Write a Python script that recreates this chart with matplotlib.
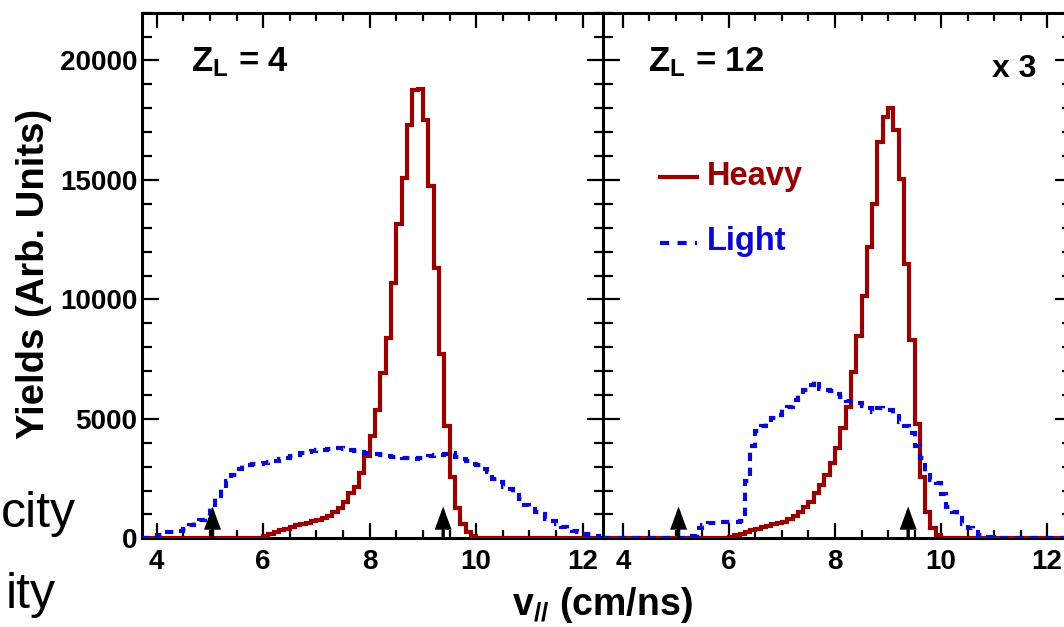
import numpy as np
import matplotlib
matplotlib.use("Agg")
import matplotlib.pyplot as plt
from matplotlib.ticker import MultipleLocator

# ---------------- data ----------------
# left panel (Z_L = 4): bins of 0.1 cm/ns from 3.7 to 12.4
edges_left = np.round(np.arange(3.7, 12.4 + 1e-9, 0.1), 2)
heavy_left = [0] * 23 + [
    80, 170, 260, 340, 410, 480, 540, 600, 650, 710,          # 6.0-6.9
    780, 840, 920, 1100, 1250, 1530, 1880, 2150, 2750, 3450,  # 7.0-7.9
    4300, 5350, 6900, 8400, 10700, 13150, 15100, 17300, 18750, 18800,  # 8.0-8.9
    17500, 14750, 11300, 7700, 4680, 2570, 1250, 610, 250, 110,  # 9.0-9.9
    30,                                                        # 10.0
] + [0] * 23
light_left = [
    0, 0, 50,                                                  # 3.7-3.9
    150, 180, 250, 280, 320, 380, 550, 700, 780, 950,          # 4.0-4.9
    1300, 1750, 2100, 2400, 2650, 2900, 3050, 3080, 3100, 3120,  # 5.0-5.9
    3150, 3200, 3250, 3300, 3350, 3430, 3480, 3560, 3620, 3660,  # 6.0-6.9
    3690, 3710, 3750, 3780, 3800, 3720, 3680, 3650, 3600, 3580,  # 7.0-7.9
    3560, 3520, 3480, 3450, 3420, 3400, 3380, 3370, 3340, 3380,  # 8.0-8.9
    3420, 3450, 3480, 3500, 3540, 3560, 3420, 3300, 3250, 3100,  # 9.0-9.9
    3050, 2900, 2780, 2500, 2350, 2150, 2050, 1800, 1650, 1400,  # 10.0-10.9
    1300, 1100, 1000, 800, 720, 600, 480, 400, 300, 270,       # 11.0-11.9
    180, 130, 80, 30,                                          # 12.0-12.3
]

# right panel (Z_L = 12, x 3): bins of 0.1 cm/ns from 3.6 to 12.5
edges_right = np.round(np.arange(3.6, 12.5 + 1e-9, 0.1), 2)
heavy_right = [0] * 24 + [
    50, 120, 190, 260, 330, 400, 470, 520, 580, 640,           # 6.0-6.9
    700, 800, 930, 1115, 1320, 1530, 1880, 2230, 2650, 3140,   # 7.0-7.9
    3770, 4600, 5500, 6940, 8480, 10150, 12200, 14000, 16600, 17650,  # 8.0-8.9
    18000, 17100, 15050, 11500, 8300, 4800, 2580, 1115, 420, 140,  # 9.0-9.9
    30,                                                        # 10.0
] + [0] * 24
light_right = [0] * 17 + [
    100, 420, 550, 630, 660, 690, 700,                         # 5.3-5.9
    700, 700, 720, 2400, 3870, 4500, 4700, 4870, 5050, 5170,   # 6.0-6.9
    5400, 5500, 5800, 6000, 6200, 6400, 6600, 6250, 6200, 6150,  # 7.0-7.9
    6050, 5900, 5750, 5700, 5650, 5550, 5450, 5300, 5450, 5400,  # 8.0-8.9
    5350, 5200, 4880, 4700, 4400, 3870, 3350, 2720, 2450, 2300,  # 9.0-9.9
    1850, 1300, 1100, 850, 600, 420, 250, 150, 70, 40,         # 10.0-10.9
] + [0] * 15

arrow_x = [5.05, 9.38]
arrow_top = 1330
panel_labels = [r"$\mathrm{Z}_{\mathrm{L}}$ = 4", r"$\mathrm{Z}_{\mathrm{L}}$ = 12"]
xticks = [4, 6, 8, 10, 12]
yticks = [0, 5000, 10000, 15000, 20000]

RED = "#990000"
BLUE = "#0a0acc"

# ---------------- style ----------------
plt.rcParams["font.family"] = ["Liberation Sans", "DejaVu Sans"]
plt.rcParams["font.weight"] = "bold"
plt.rcParams["mathtext.fontset"] = "custom"
plt.rcParams["mathtext.rm"] = "Liberation Sans:bold"
plt.rcParams["mathtext.it"] = "Liberation Sans:bold"
plt.rcParams["mathtext.bf"] = "Liberation Sans:bold"

W, H = 1064, 627
fig = plt.figure(figsize=(W / 100, H / 100), dpi=100)


def fx(px):
    return px / W


def fy(py):
    return 1 - py / H


ax1 = fig.add_axes([fx(141.7), fy(538.3), (604 - 141.7) / W, (538.3 - 12.7) / H])
ax2 = fig.add_axes([fx(603.3), fy(538.3), (1072 - 603.3) / W, (538.3 - 12.7) / H])

panels = [
    (ax1, edges_left, heavy_left, light_left, (3.72, 12.4)),
    (ax2, edges_right, heavy_right, light_right, (3.63, 12.47)),
]

dash = (0, (2.0, 1.6))
for ax, edges, heavy, light, xl in panels:
    ax.stairs(heavy, edges, baseline=None, color=RED, lw=3, zorder=3)
    ax.stairs(light, edges, baseline=None, color=BLUE, lw=3, linestyle=dash, zorder=3.1)
    for xa in arrow_x:
        ax.annotate("", xy=(xa, arrow_top), xytext=(xa, 0),
                    arrowprops=dict(arrowstyle="-|>,head_length=0.6,head_width=0.22",
                                    color="k", lw=2.4, mutation_scale=20,
                                    shrinkA=0, shrinkB=0, joinstyle="miter"), zorder=4)
    ax.set_xlim(*xl)
    ax.set_ylim(0, 22000)
    ax.set_xticks(xticks)
    ax.set_yticks(yticks)
    ax.xaxis.set_minor_locator(MultipleLocator(0.5))
    ax.yaxis.set_minor_locator(MultipleLocator(1000))
    ax.tick_params(which="both", direction="in", top=True, right=True,
                   width=1.6, labelsize=20, colors="k")
    ax.tick_params(axis="x", which="major", length=11, pad=8)
    ax.tick_params(axis="x", which="minor", length=5.5)
    ax.tick_params(axis="y", which="major", length=12, pad=3)
    ax.tick_params(axis="y", which="minor", length=7)
    for s in ax.spines.values():
        s.set_linewidth(2.2)

ax2.tick_params(labelleft=False)

# ---------------- texts ----------------
fig.text(fx(191.4), fy(71.7), panel_labels[0], fontsize=25, fontweight="bold", va="baseline")
fig.text(fx(648.3), fy(71.7), panel_labels[1], fontsize=25, fontweight="bold", va="baseline")
fig.text(fx(991.7), fy(76.7), "x 3", fontsize=23, fontweight="bold", va="baseline")

# legend (drawn by hand, as in the reference)
fig.add_artist(plt.Line2D([fx(660), fx(697)], [fy(176.7), fy(176.7)], color=RED, lw=3))
fig.add_artist(plt.Line2D([fx(660), fx(697)], [fy(242.7), fy(242.7)], color=BLUE, lw=3,
                          linestyle=(0, (2.2, 2.0))))
fig.text(fx(706.7), fy(185), "Heavy", color=RED, fontsize=23.5, fontweight="bold", va="baseline")
fig.text(fx(706.7), fy(250), "Light", color=BLUE, fontsize=23.5, fontweight="bold", va="baseline")

# axis titles
fig.text(fx(34), fy(273.5), "Yields (Arb. Units)", rotation=90, fontsize=27.5,
         fontweight="bold", ha="center", va="center")
fig.text(fx(602.5), fy(615), r"$\mathrm{v}_{//}$ (cm/ns)", fontsize=27,
         fontweight="bold", ha="center", va="baseline")

# fragments of neighbouring slide text
fig.text(fx(76), fy(526.7), "city", fontsize=36, fontweight="normal", ha="right", va="baseline")
fig.text(fx(56), fy(608.3), "ity", fontsize=36, fontweight="normal", ha="right", va="baseline")

fig.savefig("out.png", dpi=100)
